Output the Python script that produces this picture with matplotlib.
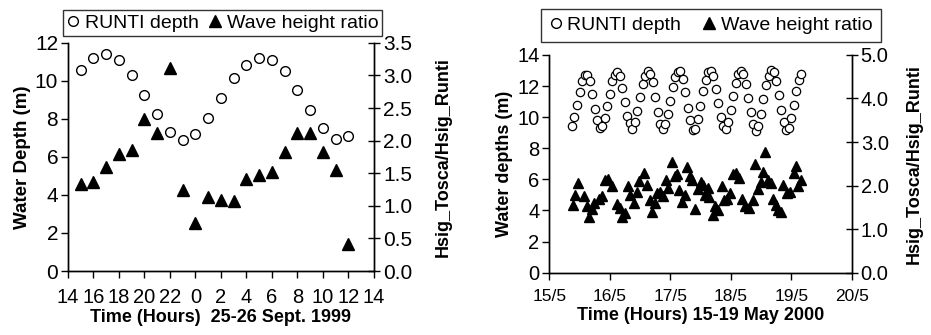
import numpy as np
import matplotlib
matplotlib.use("Agg")
import matplotlib.pyplot as plt
from matplotlib.lines import Line2D

plt.rcParams['font.family'] = ['Liberation Sans', 'DejaVu Sans']

# ---- 25-26 Sept 1999 (hourly, hour 24 = midnight) ----
hours_sep = list(range(15, 37))
depth_sep = [10.56, 11.23, 11.40, 11.12, 10.30, 9.25, 8.25, 7.32, 6.88, 7.23, 8.05,
             9.10, 10.16, 10.86, 11.23, 11.12, 10.50, 9.54, 8.49, 7.54, 6.96, 7.09]
ratio_sep = [1.34, 1.37, 1.59, 1.79, 1.86, 2.33, 2.12, 3.11, 1.25, 0.73, 1.13,
             1.09, 1.07, 1.41, 1.47, 1.52, 1.82, 2.11, 2.11, 1.82, 1.55, 0.42]
sep_ticks = list(range(14, 39, 2))
sep_ticklabels = [str(h % 24) for h in sep_ticks]

# ---- 15-19 May 2000 (hours after 15/5 00:00) ----
depth_may_start = 9
depth_may = [9.44, 10.04, 10.80, 11.63, 12.34, 12.73, 12.73, 12.30, 11.48, 10.54,
             9.83, 9.29, 9.40, 9.94, 10.69, 11.50, 12.30, 12.73, 12.88, 12.62,
             11.87, 10.97, 10.09, 9.61, 9.23, 9.66, 10.41, 11.27, 12.15, 12.66,
             12.98, 12.79, 12.23, 11.29, 10.32, 9.57, 9.23, 9.57, 10.21, 11.07,
             11.91, 12.55, 12.92, 12.94, 12.45, 11.59, 10.62, 9.79, 9.18, 9.23,
             9.87, 10.69, 11.65, 12.40, 12.88, 12.98, 12.62, 11.80, 10.88, 10.00,
             9.40, 9.23, 9.68, 10.47, 11.37, 12.19, 12.79, 12.98, 12.77, 12.12,
             11.22, 10.30, 9.53, 9.14, 9.44, 10.21, 11.16, 12.04, 12.66, 13.03,
             12.88, 12.34, 11.44, 10.47, 9.66, 9.18, 9.29, 9.94, 10.77, 11.70,
             12.40, 12.79]
ratio_may_hours = [9.3, 10.2, 11.5, 13.9, 14.8, 15.9, 16.9, 17.9, 19.7, 20.8,
                   22.1, 23.4, 24.7, 26.7, 28.0, 29.0, 30.0, 31.4, 32.0, 33.6,
                   34.7, 35.7, 37.6, 38.6, 40.0, 40.8, 41.9, 42.9, 43.9, 45.0,
                   46.2, 47.2, 48.6, 49.9, 50.8, 51.6, 52.5, 53.9, 54.5, 55.8,
                   56.8, 57.8, 59.1, 60.2, 61.1, 61.8, 62.8, 63.5, 64.8, 65.8,
                   67.1, 68.4, 69.3, 70.4, 71.7, 73.0, 74.1, 75.4, 76.3, 77.7,
                   79.4, 80.7, 81.6, 83.0, 83.9, 84.7, 85.6, 86.9, 88.0, 88.6,
                   90.0, 90.9, 91.8, 92.9, 94.2, 95.5, 97.1, 97.9, 98.8, 99.8]
ratio_may = [1.56, 1.79, 2.07, 1.75, 1.53, 1.27, 1.46, 1.59, 1.69, 1.75,
             2.13, 2.15, 1.98, 1.58, 1.48, 1.27, 1.36, 1.98, 1.79, 1.59,
             1.86, 2.11, 2.28, 2.02, 1.67, 1.39, 1.59, 1.84, 1.86, 1.75,
             2.13, 1.94, 2.54, 2.21, 2.26, 1.90, 1.63, 1.79, 2.42, 2.23,
             2.13, 1.46, 1.92, 2.09, 2.02, 1.79, 1.94, 1.73, 1.33, 1.53,
             1.44, 1.98, 1.66, 1.69, 1.84, 2.27, 2.30, 2.17, 1.69, 1.52,
             1.48, 1.67, 2.49, 1.92, 2.09, 2.32, 2.78, 2.13, 2.05, 1.69,
             1.56, 1.44, 1.39, 2.02, 1.84, 1.86, 2.28, 2.45, 1.98, 2.13]
may_ticks = [15, 16, 17, 18, 19, 20]
may_ticklabels = ["15/5", "16/5", "17/5", "18/5", "19/5", "20/5"]

depth_may_days = 15 + (depth_may_start + np.arange(len(depth_may))) / 24.0
ratio_may_days = 15 + np.array(ratio_may_hours) / 24.0


def style_axes(ax, ax2, xfs, yfs):
    for a in (ax, ax2):
        a.spines['top'].set_visible(False)
        for s in a.spines.values():
            s.set_linewidth(1.0)
    ax.tick_params(axis='y', direction='out', length=5, width=1, labelsize=yfs, pad=2)
    ax.tick_params(axis='x', direction='out', length=5, width=1, labelsize=xfs, pad=7)
    ax2.tick_params(axis='y', direction='inout', length=9, width=1, labelsize=yfs, pad=2)


fig = plt.figure(figsize=(9.31, 3.35), dpi=100)

# left panel
ax1 = fig.add_axes([0.073, 0.191, 0.3287, 0.681])
ax1b = ax1.twinx()
ax1.plot(hours_sep, depth_sep, 'o', ms=7, mfc='white', mec='black', mew=1.0)
ax1b.plot(hours_sep, ratio_sep, '^', ms=8.5, color='black')
ax1.set_xlim(14, 38)
ax1.set_ylim(0, 12)
ax1b.set_ylim(0, 3.5)
ax1.set_xticks(sep_ticks)
ax1.set_xticklabels(sep_ticklabels)
ax1.set_yticks(range(0, 13, 2))
ax1b.set_yticks(np.arange(0, 3.51, 0.5))
ax1b.set_yticklabels([f"{v:.1f}" for v in np.arange(0, 3.51, 0.5)])
style_axes(ax1, ax1b, 14.5, 15)
ax1.set_xlabel("Time (Hours)  25-26 Sept. 1999", fontsize=13, fontweight='bold', labelpad=2)
ax1.set_ylabel("Water Depth (m)", fontsize=13.5, fontweight='bold', labelpad=3)
ax1b.set_ylabel("Hsig_Tosca/Hsig_Runti", fontsize=13, fontweight='bold', labelpad=16)

# right panel
ax2 = fig.add_axes([0.590, 0.186, 0.3248, 0.650])
ax2b = ax2.twinx()
ax2.plot(depth_may_days, depth_may, 'o', ms=6, mfc='white', mec='black', mew=0.9)
ax2b.plot(ratio_may_days, ratio_may, '^', ms=7, color='black')
ax2.set_xlim(15, 20)
ax2.set_ylim(0, 14)
ax2b.set_ylim(0, 5)
ax2.set_xticks(may_ticks)
ax2.set_xticklabels(may_ticklabels)
ax2.set_yticks(range(0, 15, 2))
ax2b.set_yticks(range(0, 6))
ax2b.set_yticklabels([f"{v:.1f}" for v in range(0, 6)])
style_axes(ax2, ax2b, 12.5, 14.5)
ax2.set_xlabel("Time (Hours) 15-19 May 2000", fontsize=13, fontweight='bold', labelpad=2)
ax2.set_ylabel("Water depths (m)", fontsize=13, fontweight='bold', labelpad=3)
ax2b.set_ylabel("Hsig_Tosca/Hsig_Runti", fontsize=13, fontweight='bold', labelpad=12)

# legends
h_circ = Line2D([], [], ls='none', marker='o', ms=7, mfc='white', mec='black', mew=1.0)
h_tri = Line2D([], [], ls='none', marker='^', ms=8, color='black')
labels = ["RUNTI depth", "Wave height ratio"]

for xc, yc, gap, bp in [(0.239, 0.931, 0.5, 0.2), (0.7635, 0.924, 1.1, 0.4)]:
    leg = fig.legend([h_circ, h_tri], labels, ncol=2, loc='center',
                     bbox_to_anchor=(xc, yc), fontsize=14,
                     frameon=True, fancybox=False, edgecolor='black',
                     handlelength=0.7, handletextpad=0.25, columnspacing=gap,
                     borderpad=bp, borderaxespad=0)
    leg.get_frame().set_linewidth(1.0)

fig.savefig("out.png", dpi=100)
